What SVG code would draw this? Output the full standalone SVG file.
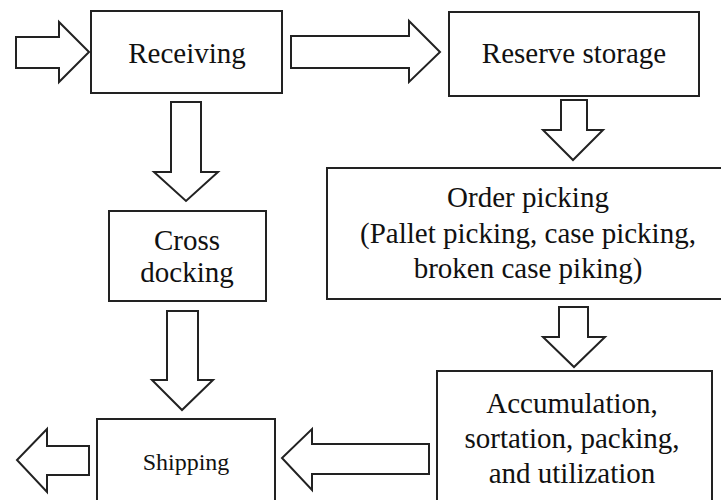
<svg xmlns="http://www.w3.org/2000/svg" width="721" height="500" viewBox="0 0 721 500">
  <style>
    .box { fill: #fff; stroke: #222; stroke-width: 2; }
    .arrow { fill: #fff; stroke: #222; stroke-width: 2; stroke-linejoin: miter; }
    .lbl { font-family: "Liberation Serif", "Times New Roman", serif; font-size: 29px; fill: #111; text-anchor: middle; }
    .small { font-size: 24px; }
  </style>
  <rect width="721" height="500" fill="#fff"/>

  <g id="receiving">
    <rect class="box" x="91" y="11" width="191" height="82"/>
    <text class="lbl" x="187" y="63">Receiving</text>
  </g>

  <g id="reserve-storage">
    <rect class="box" x="449" y="12" width="250" height="84"/>
    <text class="lbl" x="574" y="63">Reserve storage</text>
  </g>

  <g id="order-picking">
    <rect class="box" x="327" y="168" width="420" height="131"/>
    <text class="lbl" x="528" y="207">Order picking</text>
    <text class="lbl" x="528" y="243">(Pallet picking, case picking,</text>
    <text class="lbl" x="528" y="278">broken case piking)</text>
  </g>

  <g id="cross-docking">
    <rect class="box" x="109" y="211" width="157" height="90"/>
    <text class="lbl" x="187" y="250">Cross</text>
    <text class="lbl" x="187" y="282">docking</text>
  </g>

  <g id="accumulation">
    <rect class="box" x="437" y="371" width="275" height="150"/>
    <text class="lbl" x="572" y="413">Accumulation,</text>
    <text class="lbl" x="572" y="448">sortation, packing,</text>
    <text class="lbl" x="572" y="483">and utilization</text>
  </g>

  <g id="shipping">
    <rect class="box" x="97" y="419" width="178" height="100"/>
    <text class="lbl small" x="186" y="470">Shipping</text>
  </g>

  <g id="connectors">
    <!-- inbound into receiving -->
    <polygon class="arrow" points="16,37 59,37 59,22 89,52 59,82 59,68 16,68"/>
    <!-- receiving to reserve storage -->
    <polygon class="arrow" points="291,36 409,36 409,21 440,52 409,82 409,68 291,68"/>
    <!-- receiving to cross docking -->
    <polygon class="arrow" points="171,102 201,102 201,172 218,172 186,201 154,172 171,172"/>
    <!-- reserve storage to order picking -->
    <polygon class="arrow" points="561,100 587,100 587,130 603,130 573,160 543,130 561,130"/>
    <!-- order picking to accumulation -->
    <polygon class="arrow" points="559,307 588,307 588,337 605,337 574,367 543,337 559,337"/>
    <!-- cross docking to shipping -->
    <polygon class="arrow" points="167,311 198,311 198,380 213,380 182,410 152,380 167,380"/>
    <!-- accumulation to shipping -->
    <polygon class="arrow" points="429,444 312,444 312,429 282,458 312,490 312,474 429,474"/>
    <!-- outbound from shipping -->
    <polygon class="arrow" points="89,446 47,446 47,429 17,460 47,492 47,475 89,475"/>
  </g>
</svg>
